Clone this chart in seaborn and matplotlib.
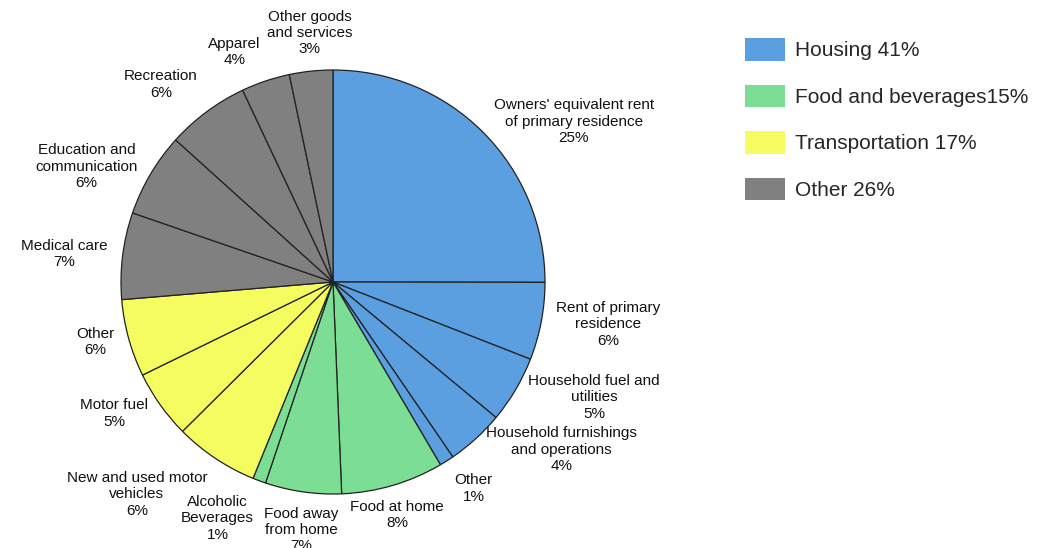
import numpy as np
import seaborn as sns
import matplotlib.pyplot as plt
from matplotlib.patches import Patch

# slice shares (clockwise from 12 o'clock)
items = ["Owners' equivalent rent\nof primary residence\n25%",
         "Rent of primary\nresidence\n6%",
         "Household fuel and\nutilities\n5%",
         "Household furnishings\nand operations\n4%",
         "Other\n1%",
         "Food at home\n8%",
         "Food away\nfrom home\n7%",
         "Alcoholic\nBeverages\n1%",
         "New and used motor\nvehicles\n6%",
         "Motor fuel\n5%",
         "Other\n6%",
         "Medical care\n7%",
         "Education and\ncommunication\n6%",
         "Recreation\n6%",
         "Apparel\n4%",
         "Other goods\nand services\n3%"]
shares = [25.0, 5.9, 5.1, 4.4, 1.1,
          7.8, 5.8, 1.0,
          6.4, 5.2, 5.9,
          6.6, 6.4, 6.3, 3.7, 3.3]
groups = ["Housing"] * 5 + ["Food"] * 3 + ["Transport"] * 3 + ["Other"] * 5

legend_labels = ["Housing 41%", "Food and beverages15%",
                 "Transportation 17%", "Other 26%"]
group_colors = {"Housing": "#5B9FE0", "Food": "#7CDD94",
                "Transport": "#F5FC60", "Other": "#808080"}

sns.set_theme(style="white")
plt.rcParams['font.family'] = ['Liberation Sans', 'DejaVu Sans']

fig = plt.figure(figsize=(10.37, 5.48), dpi=100)
ax = fig.add_axes([121 / 1037, 54 / 548, 424 / 1037, 424 / 548])

colors = [group_colors[g] for g in groups]
wedges, _ = ax.pie(shares, colors=colors, startangle=90, counterclock=False,
                   radius=1.0,
                   wedgeprops=dict(edgecolor="#222222", linewidth=0.9))
ax.set_xlim(-1, 1)
ax.set_ylim(-1, 1)
ax.set_aspect('equal')

# labels placed just outside each wedge
for w, txt in zip(wedges, items):
    mid = np.deg2rad((w.theta1 + w.theta2) / 2)
    cx, sy = np.cos(mid), np.sin(mid)
    ha = 'left' if cx > 0.3 else ('right' if cx < -0.3 else 'center')
    va = 'bottom' if sy > 0.75 else ('top' if sy < -0.75 else 'center')
    ax.text(1.07 * cx, 1.07 * sy, txt, ha=ha, va=va, multialignment='center',
            fontsize=11, color="#111111", linespacing=1.22, clip_on=False)

handles = [Patch(facecolor=c, edgecolor='none') for c in group_colors.values()]
fig.legend(handles, legend_labels, loc='upper left',
           bbox_to_anchor=(745 / 1037, 1 - 38 / 548), frameon=False,
           fontsize=15, handlelength=1.9, handleheight=1.29,
           handletextpad=0.48, labelspacing=1.15, borderpad=0, borderaxespad=0)

fig.savefig("out.png", dpi=100)
